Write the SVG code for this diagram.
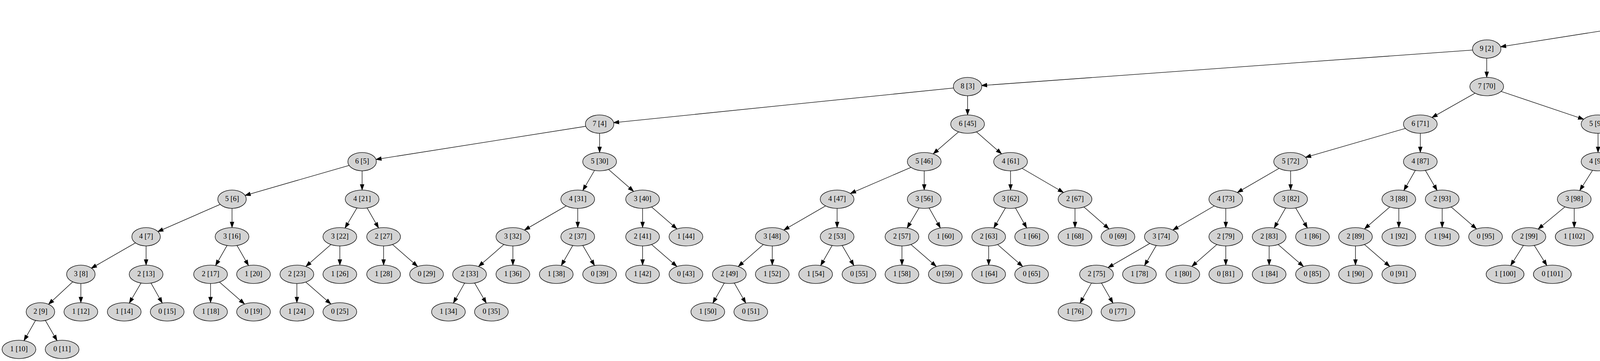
<svg xmlns="http://www.w3.org/2000/svg" width="7572" height="923" viewBox="0 0 7572 923">
<style>
.e line{stroke:#000;stroke-width:1.33;fill:none}
.n ellipse{fill:#d3d3d3;stroke:#000;stroke-width:1.33}
.n text{font-family:"Liberation Serif","Times New Roman",serif;font-size:18.67px;text-anchor:middle;fill:#000}
marker path{fill:#000;stroke:#000;stroke-width:1.33}
</style>
<defs>
<marker id="a24" markerUnits="userSpaceOnUse" orient="auto" markerWidth="16" markerHeight="12" refX="38.33" refY="6" overflow="visible"><path d="M1,1.33L14.33,6L1,10.67z"/></marker>
<marker id="a25" markerUnits="userSpaceOnUse" orient="auto" markerWidth="16" markerHeight="12" refX="39.2" refY="6" overflow="visible"><path d="M1,1.33L14.33,6L1,10.67z"/></marker>
<marker id="a26" markerUnits="userSpaceOnUse" orient="auto" markerWidth="16" markerHeight="12" refX="40.7" refY="6" overflow="visible"><path d="M1,1.33L14.33,6L1,10.67z"/></marker>
<marker id="a27" markerUnits="userSpaceOnUse" orient="auto" markerWidth="16" markerHeight="12" refX="41.3" refY="6" overflow="visible"><path d="M1,1.33L14.33,6L1,10.67z"/></marker>
<marker id="a29" markerUnits="userSpaceOnUse" orient="auto" markerWidth="16" markerHeight="12" refX="43.1" refY="6" overflow="visible"><path d="M1,1.33L14.33,6L1,10.67z"/></marker>
<marker id="a30" markerUnits="userSpaceOnUse" orient="auto" markerWidth="16" markerHeight="12" refX="44.3" refY="6" overflow="visible"><path d="M1,1.33L14.33,6L1,10.67z"/></marker>
<marker id="a31" markerUnits="userSpaceOnUse" orient="auto" markerWidth="16" markerHeight="12" refX="45.4" refY="6" overflow="visible"><path d="M1,1.33L14.33,6L1,10.67z"/></marker>
<marker id="a33" markerUnits="userSpaceOnUse" orient="auto" markerWidth="16" markerHeight="12" refX="47.2" refY="6" overflow="visible"><path d="M1,1.33L14.33,6L1,10.67z"/></marker>
<marker id="a34" markerUnits="userSpaceOnUse" orient="auto" markerWidth="16" markerHeight="12" refX="48.9" refY="6" overflow="visible"><path d="M1,1.33L14.33,6L1,10.67z"/></marker>
<marker id="a35" markerUnits="userSpaceOnUse" orient="auto" markerWidth="16" markerHeight="12" refX="49.3" refY="6" overflow="visible"><path d="M1,1.33L14.33,6L1,10.67z"/></marker>
<marker id="a36" markerUnits="userSpaceOnUse" orient="auto" markerWidth="16" markerHeight="12" refX="50.4" refY="6" overflow="visible"><path d="M1,1.33L14.33,6L1,10.67z"/></marker>
<marker id="a37" markerUnits="userSpaceOnUse" orient="auto" markerWidth="16" markerHeight="12" refX="51.7" refY="6" overflow="visible"><path d="M1,1.33L14.33,6L1,10.67z"/></marker>
<marker id="a39" markerUnits="userSpaceOnUse" orient="auto" markerWidth="16" markerHeight="12" refX="53.5" refY="6" overflow="visible"><path d="M1,1.33L14.33,6L1,10.67z"/></marker>
<marker id="a40" markerUnits="userSpaceOnUse" orient="auto" markerWidth="16" markerHeight="12" refX="54.2" refY="6" overflow="visible"><path d="M1,1.33L14.33,6L1,10.67z"/></marker>
<marker id="a43" markerUnits="userSpaceOnUse" orient="auto" markerWidth="16" markerHeight="12" refX="57.2" refY="6" overflow="visible"><path d="M1,1.33L14.33,6L1,10.67z"/></marker>
<marker id="a44" markerUnits="userSpaceOnUse" orient="auto" markerWidth="16" markerHeight="12" refX="58.6" refY="6" overflow="visible"><path d="M1,1.33L14.33,6L1,10.67z"/></marker>
<marker id="a45" markerUnits="userSpaceOnUse" orient="auto" markerWidth="16" markerHeight="12" refX="59.6" refY="6" overflow="visible"><path d="M1,1.33L14.33,6L1,10.67z"/></marker>
<marker id="a48" markerUnits="userSpaceOnUse" orient="auto" markerWidth="16" markerHeight="12" refX="62.3" refY="6" overflow="visible"><path d="M1,1.33L14.33,6L1,10.67z"/></marker>
</defs>
<rect width="7572" height="923" fill="#fff"/>
<g id="edges" class="e">
<line x1="4414" y1="29.3" x2="3806" y2="125.3" marker-end="url(#a36)"/>
<line x1="4414" y1="29.3" x2="5576" y2="125.3" marker-end="url(#a48)"/>
<line x1="3806" y1="125.3" x2="2477" y2="221.3" marker-end="url(#a36)"/>
<line x1="3806" y1="125.3" x2="3806" y2="221.3" marker-end="url(#a24)"/>
<line x1="2477" y1="221.3" x2="1535" y2="317.3" marker-end="url(#a36)"/>
<line x1="2477" y1="221.3" x2="2477" y2="317.3" marker-end="url(#a24)"/>
<line x1="1535" y1="317.3" x2="927" y2="413.3" marker-end="url(#a36)"/>
<line x1="1535" y1="317.3" x2="1535" y2="413.3" marker-end="url(#a24)"/>
<line x1="927" y1="413.3" x2="594" y2="509.3" marker-end="url(#a35)"/>
<line x1="927" y1="413.3" x2="927" y2="509.3" marker-end="url(#a24)"/>
<line x1="594" y1="509.3" x2="374" y2="605.3" marker-end="url(#a33)"/>
<line x1="594" y1="509.3" x2="594" y2="605.3" marker-end="url(#a24)"/>
<line x1="374" y1="605.3" x2="207" y2="701.3" marker-end="url(#a31)"/>
<line x1="374" y1="605.3" x2="374" y2="701.3" marker-end="url(#a24)"/>
<line x1="207" y1="701.3" x2="103.5" y2="797.3" marker-end="url(#a29)"/>
<line x1="207" y1="701.3" x2="207" y2="797.3" marker-end="url(#a24)"/>
<line x1="103.5" y1="797.3" x2="48.5" y2="893.3" marker-end="url(#a26)"/>
<line x1="103.5" y1="797.3" x2="159" y2="893.3" marker-end="url(#a26)"/>
<line x1="374" y1="701.3" x2="318" y2="797.3" marker-end="url(#a26)"/>
<line x1="374" y1="701.3" x2="428" y2="797.3" marker-end="url(#a26)"/>
<line x1="594" y1="605.3" x2="539" y2="701.3" marker-end="url(#a26)"/>
<line x1="594" y1="605.3" x2="649" y2="701.3" marker-end="url(#a26)"/>
<line x1="539" y1="701.3" x2="539" y2="797.3" marker-end="url(#a24)"/>
<line x1="539" y1="701.3" x2="649" y2="797.3" marker-end="url(#a31)"/>
<line x1="927" y1="509.3" x2="870" y2="605.3" marker-end="url(#a26)"/>
<line x1="927" y1="509.3" x2="982" y2="605.3" marker-end="url(#a26)"/>
<line x1="870" y1="605.3" x2="760" y2="701.3" marker-end="url(#a31)"/>
<line x1="870" y1="605.3" x2="870" y2="701.3" marker-end="url(#a24)"/>
<line x1="760" y1="701.3" x2="760" y2="797.3" marker-end="url(#a24)"/>
<line x1="760" y1="701.3" x2="870" y2="797.3" marker-end="url(#a31)"/>
<line x1="982" y1="605.3" x2="982" y2="701.3" marker-end="url(#a24)"/>
<line x1="982" y1="605.3" x2="1092" y2="701.3" marker-end="url(#a31)"/>
<line x1="1535" y1="413.3" x2="1479" y2="509.3" marker-end="url(#a26)"/>
<line x1="1535" y1="413.3" x2="1645" y2="509.3" marker-end="url(#a31)"/>
<line x1="1479" y1="509.3" x2="1313" y2="605.3" marker-end="url(#a34)"/>
<line x1="1479" y1="509.3" x2="1479" y2="605.3" marker-end="url(#a24)"/>
<line x1="1313" y1="605.3" x2="1202" y2="701.3" marker-end="url(#a31)"/>
<line x1="1313" y1="605.3" x2="1313" y2="701.3" marker-end="url(#a24)"/>
<line x1="1202" y1="701.3" x2="1148" y2="797.3" marker-end="url(#a26)"/>
<line x1="1202" y1="701.3" x2="1258" y2="797.3" marker-end="url(#a26)"/>
<line x1="1479" y1="605.3" x2="1424" y2="701.3" marker-end="url(#a26)"/>
<line x1="1479" y1="605.3" x2="1535" y2="701.3" marker-end="url(#a26)"/>
<line x1="1645" y1="509.3" x2="1645" y2="605.3" marker-end="url(#a24)"/>
<line x1="1645" y1="509.3" x2="1756" y2="605.3" marker-end="url(#a31)"/>
<line x1="1645" y1="605.3" x2="1645" y2="701.3" marker-end="url(#a24)"/>
<line x1="1645" y1="605.3" x2="1756" y2="701.3" marker-end="url(#a31)"/>
<line x1="2477" y1="317.3" x2="2366" y2="413.3" marker-end="url(#a31)"/>
<line x1="2477" y1="317.3" x2="2587" y2="413.3" marker-end="url(#a31)"/>
<line x1="2366" y1="413.3" x2="2143" y2="509.3" marker-end="url(#a37)"/>
<line x1="2366" y1="413.3" x2="2366" y2="509.3" marker-end="url(#a24)"/>
<line x1="2143" y1="509.3" x2="1977" y2="605.3" marker-end="url(#a34)"/>
<line x1="2143" y1="509.3" x2="2143" y2="605.3" marker-end="url(#a24)"/>
<line x1="1977" y1="605.3" x2="1867" y2="701.3" marker-end="url(#a31)"/>
<line x1="1977" y1="605.3" x2="1977" y2="701.3" marker-end="url(#a24)"/>
<line x1="1867" y1="701.3" x2="1812" y2="797.3" marker-end="url(#a26)"/>
<line x1="1867" y1="701.3" x2="1922" y2="797.3" marker-end="url(#a26)"/>
<line x1="2143" y1="605.3" x2="2088" y2="701.3" marker-end="url(#a26)"/>
<line x1="2143" y1="605.3" x2="2199" y2="701.3" marker-end="url(#a26)"/>
<line x1="2366" y1="509.3" x2="2309" y2="605.3" marker-end="url(#a26)"/>
<line x1="2366" y1="509.3" x2="2420" y2="605.3" marker-end="url(#a26)"/>
<line x1="2309" y1="605.3" x2="2309" y2="701.3" marker-end="url(#a24)"/>
<line x1="2309" y1="605.3" x2="2420" y2="701.3" marker-end="url(#a31)"/>
<line x1="2587" y1="413.3" x2="2587" y2="509.3" marker-end="url(#a24)"/>
<line x1="2587" y1="413.3" x2="2752" y2="509.3" marker-end="url(#a34)"/>
<line x1="2587" y1="509.3" x2="2531" y2="605.3" marker-end="url(#a26)"/>
<line x1="2587" y1="509.3" x2="2641" y2="605.3" marker-end="url(#a26)"/>
<line x1="2531" y1="605.3" x2="2531" y2="701.3" marker-end="url(#a24)"/>
<line x1="2531" y1="605.3" x2="2641" y2="701.3" marker-end="url(#a31)"/>
<line x1="2752" y1="509.3" x2="2752" y2="605.3" marker-end="url(#a24)"/>
<line x1="2752" y1="509.3" x2="2862" y2="605.3" marker-end="url(#a31)"/>
<line x1="3806" y1="221.3" x2="3636" y2="317.3" marker-end="url(#a34)"/>
<line x1="3806" y1="221.3" x2="4091" y2="317.3" marker-end="url(#a39)"/>
<line x1="3636" y1="317.3" x2="3304" y2="413.3" marker-end="url(#a40)"/>
<line x1="3636" y1="317.3" x2="3636" y2="413.3" marker-end="url(#a24)"/>
<line x1="3304" y1="413.3" x2="3138" y2="509.3" marker-end="url(#a34)"/>
<line x1="3304" y1="413.3" x2="3304" y2="509.3" marker-end="url(#a24)"/>
<line x1="3138" y1="509.3" x2="2973" y2="605.3" marker-end="url(#a34)"/>
<line x1="3138" y1="509.3" x2="3138" y2="605.3" marker-end="url(#a24)"/>
<line x1="2973" y1="605.3" x2="2807" y2="701.3" marker-end="url(#a34)"/>
<line x1="2973" y1="605.3" x2="2917" y2="701.3" marker-end="url(#a26)"/>
<line x1="2807" y1="701.3" x2="2752" y2="797.3" marker-end="url(#a26)"/>
<line x1="2807" y1="701.3" x2="2862" y2="797.3" marker-end="url(#a26)"/>
<line x1="3138" y1="605.3" x2="3028" y2="701.3" marker-end="url(#a31)"/>
<line x1="3138" y1="605.3" x2="3138" y2="701.3" marker-end="url(#a24)"/>
<line x1="3304" y1="509.3" x2="3249" y2="605.3" marker-end="url(#a26)"/>
<line x1="3304" y1="509.3" x2="3360" y2="605.3" marker-end="url(#a26)"/>
<line x1="3249" y1="605.3" x2="3249" y2="701.3" marker-end="url(#a24)"/>
<line x1="3249" y1="605.3" x2="3360" y2="701.3" marker-end="url(#a31)"/>
<line x1="3636" y1="413.3" x2="3581" y2="509.3" marker-end="url(#a26)"/>
<line x1="3636" y1="413.3" x2="3692" y2="509.3" marker-end="url(#a26)"/>
<line x1="3581" y1="509.3" x2="3470" y2="605.3" marker-end="url(#a31)"/>
<line x1="3581" y1="509.3" x2="3581" y2="605.3" marker-end="url(#a24)"/>
<line x1="3470" y1="605.3" x2="3470" y2="701.3" marker-end="url(#a24)"/>
<line x1="3470" y1="605.3" x2="3581" y2="701.3" marker-end="url(#a31)"/>
<line x1="3692" y1="509.3" x2="3692" y2="605.3" marker-end="url(#a24)"/>
<line x1="3692" y1="509.3" x2="3803" y2="605.3" marker-end="url(#a31)"/>
<line x1="4091" y1="317.3" x2="4091" y2="413.3" marker-end="url(#a24)"/>
<line x1="4091" y1="317.3" x2="4394" y2="413.3" marker-end="url(#a43)"/>
<line x1="4091" y1="413.3" x2="4030" y2="509.3" marker-end="url(#a27)"/>
<line x1="4091" y1="413.3" x2="4151" y2="509.3" marker-end="url(#a27)"/>
<line x1="4030" y1="509.3" x2="3914" y2="605.3" marker-end="url(#a31)"/>
<line x1="4030" y1="509.3" x2="4030" y2="605.3" marker-end="url(#a24)"/>
<line x1="3914" y1="605.3" x2="3853" y2="701.3" marker-end="url(#a27)"/>
<line x1="3914" y1="605.3" x2="3974" y2="701.3" marker-end="url(#a27)"/>
<line x1="4151" y1="509.3" x2="4151" y2="605.3" marker-end="url(#a24)"/>
<line x1="4151" y1="509.3" x2="4272" y2="605.3" marker-end="url(#a33)"/>
<line x1="4394" y1="413.3" x2="4394" y2="509.3" marker-end="url(#a24)"/>
<line x1="4394" y1="413.3" x2="4515" y2="509.3" marker-end="url(#a33)"/>
<line x1="4394" y1="509.3" x2="4394" y2="605.3" marker-end="url(#a24)"/>
<line x1="4394" y1="509.3" x2="4515" y2="605.3" marker-end="url(#a33)"/>
<line x1="5576" y1="125.3" x2="5576" y2="221.3" marker-end="url(#a24)"/>
<line x1="5576" y1="125.3" x2="6790" y2="221.3" marker-end="url(#a48)"/>
<line x1="5576" y1="221.3" x2="5395" y2="317.3" marker-end="url(#a37)"/>
<line x1="5576" y1="221.3" x2="5879" y2="317.3" marker-end="url(#a43)"/>
<line x1="5395" y1="317.3" x2="5031" y2="413.3" marker-end="url(#a44)"/>
<line x1="5395" y1="317.3" x2="5395" y2="413.3" marker-end="url(#a24)"/>
<line x1="5031" y1="413.3" x2="4818" y2="509.3" marker-end="url(#a39)"/>
<line x1="5031" y1="413.3" x2="5031" y2="509.3" marker-end="url(#a24)"/>
<line x1="4818" y1="509.3" x2="4635" y2="605.3" marker-end="url(#a37)"/>
<line x1="4818" y1="509.3" x2="4818" y2="605.3" marker-end="url(#a24)"/>
<line x1="4635" y1="605.3" x2="4485" y2="701.3" marker-end="url(#a35)"/>
<line x1="4635" y1="605.3" x2="4606" y2="701.3" marker-end="url(#a25)"/>
<line x1="4485" y1="701.3" x2="4423" y2="797.3" marker-end="url(#a27)"/>
<line x1="4485" y1="701.3" x2="4544" y2="797.3" marker-end="url(#a27)"/>
<line x1="4818" y1="605.3" x2="4727" y2="701.3" marker-end="url(#a30)"/>
<line x1="4818" y1="605.3" x2="4848" y2="701.3" marker-end="url(#a25)"/>
<line x1="5031" y1="509.3" x2="4969" y2="605.3" marker-end="url(#a27)"/>
<line x1="5031" y1="509.3" x2="5091" y2="605.3" marker-end="url(#a27)"/>
<line x1="4969" y1="605.3" x2="4969" y2="701.3" marker-end="url(#a24)"/>
<line x1="4969" y1="605.3" x2="5091" y2="701.3" marker-end="url(#a33)"/>
<line x1="5395" y1="413.3" x2="5334" y2="509.3" marker-end="url(#a27)"/>
<line x1="5395" y1="413.3" x2="5455" y2="509.3" marker-end="url(#a27)"/>
<line x1="5334" y1="509.3" x2="5213" y2="605.3" marker-end="url(#a33)"/>
<line x1="5334" y1="509.3" x2="5334" y2="605.3" marker-end="url(#a24)"/>
<line x1="5213" y1="605.3" x2="5213" y2="701.3" marker-end="url(#a24)"/>
<line x1="5213" y1="605.3" x2="5334" y2="701.3" marker-end="url(#a33)"/>
<line x1="5455" y1="509.3" x2="5455" y2="605.3" marker-end="url(#a24)"/>
<line x1="5455" y1="509.3" x2="5576" y2="605.3" marker-end="url(#a33)"/>
<line x1="5879" y1="317.3" x2="5879" y2="413.3" marker-end="url(#a24)"/>
<line x1="5879" y1="317.3" x2="6183" y2="413.3" marker-end="url(#a43)"/>
<line x1="5879" y1="413.3" x2="5819" y2="509.3" marker-end="url(#a27)"/>
<line x1="5879" y1="413.3" x2="5941" y2="509.3" marker-end="url(#a27)"/>
<line x1="5819" y1="509.3" x2="5698" y2="605.3" marker-end="url(#a33)"/>
<line x1="5819" y1="509.3" x2="5819" y2="605.3" marker-end="url(#a24)"/>
<line x1="5698" y1="605.3" x2="5638" y2="701.3" marker-end="url(#a27)"/>
<line x1="5698" y1="605.3" x2="5759" y2="701.3" marker-end="url(#a27)"/>
<line x1="5941" y1="509.3" x2="5941" y2="605.3" marker-end="url(#a24)"/>
<line x1="5941" y1="509.3" x2="6062" y2="605.3" marker-end="url(#a33)"/>
<line x1="6183" y1="413.3" x2="6183" y2="509.3" marker-end="url(#a24)"/>
<line x1="6183" y1="413.3" x2="6303" y2="509.3" marker-end="url(#a33)"/>
<line x1="6183" y1="509.3" x2="6183" y2="605.3" marker-end="url(#a24)"/>
<line x1="6183" y1="509.3" x2="6303" y2="605.3" marker-end="url(#a33)"/>
<line x1="6790" y1="221.3" x2="6790" y2="317.3" marker-end="url(#a24)"/>
<line x1="6790" y1="221.3" x2="7215" y2="317.3" marker-end="url(#a45)"/>
<line x1="6790" y1="317.3" x2="6728" y2="413.3" marker-end="url(#a27)"/>
<line x1="6790" y1="317.3" x2="6911" y2="413.3" marker-end="url(#a33)"/>
<line x1="6728" y1="413.3" x2="6547" y2="509.3" marker-end="url(#a37)"/>
<line x1="6728" y1="413.3" x2="6728" y2="509.3" marker-end="url(#a24)"/>
<line x1="6547" y1="509.3" x2="6425" y2="605.3" marker-end="url(#a33)"/>
<line x1="6547" y1="509.3" x2="6547" y2="605.3" marker-end="url(#a24)"/>
<line x1="6425" y1="605.3" x2="6364" y2="701.3" marker-end="url(#a27)"/>
<line x1="6425" y1="605.3" x2="6486" y2="701.3" marker-end="url(#a27)"/>
<line x1="6728" y1="509.3" x2="6668" y2="605.3" marker-end="url(#a27)"/>
<line x1="6728" y1="509.3" x2="6790" y2="605.3" marker-end="url(#a27)"/>
<line x1="6911" y1="413.3" x2="6911" y2="509.3" marker-end="url(#a24)"/>
<line x1="6911" y1="413.3" x2="7032" y2="509.3" marker-end="url(#a33)"/>
<line x1="6911" y1="509.3" x2="6911" y2="605.3" marker-end="url(#a24)"/>
<line x1="6911" y1="509.3" x2="7032" y2="605.3" marker-end="url(#a33)"/>
<line x1="7215" y1="317.3" x2="7215" y2="413.3" marker-end="url(#a24)"/>
<line x1="7215" y1="317.3" x2="7397" y2="413.3" marker-end="url(#a37)"/>
<line x1="7215" y1="413.3" x2="7154" y2="509.3" marker-end="url(#a27)"/>
<line x1="7215" y1="413.3" x2="7275" y2="509.3" marker-end="url(#a27)"/>
<line x1="7154" y1="509.3" x2="7154" y2="605.3" marker-end="url(#a24)"/>
<line x1="7154" y1="509.3" x2="7275" y2="605.3" marker-end="url(#a33)"/>
<line x1="7397" y1="413.3" x2="7397" y2="509.3" marker-end="url(#a24)"/>
<line x1="7397" y1="413.3" x2="7518" y2="509.3" marker-end="url(#a33)"/>
</g>
<g id="n1" class="n" transform="translate(4414,29.3)"><ellipse rx="43.25" ry="23.5"/><text y="5">10 [1]</text></g>
<g id="n2" class="n" transform="translate(3806,125.3)"><ellipse rx="36.5" ry="23.5"/><text y="5">9 [2]</text></g>
<g id="n3" class="n" transform="translate(2477,221.3)"><ellipse rx="36.5" ry="23.5"/><text y="5">8 [3]</text></g>
<g id="n4" class="n" transform="translate(1535,317.3)"><ellipse rx="36.5" ry="23.5"/><text y="5">7 [4]</text></g>
<g id="n5" class="n" transform="translate(927,413.3)"><ellipse rx="36.5" ry="23.5"/><text y="5">6 [5]</text></g>
<g id="n6" class="n" transform="translate(594,509.3)"><ellipse rx="36.5" ry="23.5"/><text y="5">5 [6]</text></g>
<g id="n7" class="n" transform="translate(374,605.3)"><ellipse rx="36.5" ry="23.5"/><text y="5">4 [7]</text></g>
<g id="n8" class="n" transform="translate(207,701.3)"><ellipse rx="36.5" ry="23.5"/><text y="5">3 [8]</text></g>
<g id="n9" class="n" transform="translate(103.5,797.3)"><ellipse rx="36.5" ry="23.5"/><text y="5">2 [9]</text></g>
<g id="n10" class="n" transform="translate(48.5,893.3)"><ellipse rx="43.25" ry="23.5"/><text y="5">1 [10]</text></g>
<g id="n11" class="n" transform="translate(159,893.3)"><ellipse rx="43.25" ry="23.5"/><text y="5">0 [11]</text></g>
<g id="n12" class="n" transform="translate(207,797.3)"><ellipse rx="43.25" ry="23.5"/><text y="5">1 [12]</text></g>
<g id="n13" class="n" transform="translate(374,701.3)"><ellipse rx="43.25" ry="23.5"/><text y="5">2 [13]</text></g>
<g id="n14" class="n" transform="translate(318,797.3)"><ellipse rx="43.25" ry="23.5"/><text y="5">1 [14]</text></g>
<g id="n15" class="n" transform="translate(428,797.3)"><ellipse rx="43.25" ry="23.5"/><text y="5">0 [15]</text></g>
<g id="n16" class="n" transform="translate(594,605.3)"><ellipse rx="43.25" ry="23.5"/><text y="5">3 [16]</text></g>
<g id="n17" class="n" transform="translate(539,701.3)"><ellipse rx="43.25" ry="23.5"/><text y="5">2 [17]</text></g>
<g id="n18" class="n" transform="translate(539,797.3)"><ellipse rx="43.25" ry="23.5"/><text y="5">1 [18]</text></g>
<g id="n19" class="n" transform="translate(649,797.3)"><ellipse rx="43.25" ry="23.5"/><text y="5">0 [19]</text></g>
<g id="n20" class="n" transform="translate(649,701.3)"><ellipse rx="43.25" ry="23.5"/><text y="5">1 [20]</text></g>
<g id="n21" class="n" transform="translate(927,509.3)"><ellipse rx="43.25" ry="23.5"/><text y="5">4 [21]</text></g>
<g id="n22" class="n" transform="translate(870,605.3)"><ellipse rx="43.25" ry="23.5"/><text y="5">3 [22]</text></g>
<g id="n23" class="n" transform="translate(760,701.3)"><ellipse rx="43.25" ry="23.5"/><text y="5">2 [23]</text></g>
<g id="n24" class="n" transform="translate(760,797.3)"><ellipse rx="43.25" ry="23.5"/><text y="5">1 [24]</text></g>
<g id="n25" class="n" transform="translate(870,797.3)"><ellipse rx="43.25" ry="23.5"/><text y="5">0 [25]</text></g>
<g id="n26" class="n" transform="translate(870,701.3)"><ellipse rx="43.25" ry="23.5"/><text y="5">1 [26]</text></g>
<g id="n27" class="n" transform="translate(982,605.3)"><ellipse rx="43.25" ry="23.5"/><text y="5">2 [27]</text></g>
<g id="n28" class="n" transform="translate(982,701.3)"><ellipse rx="43.25" ry="23.5"/><text y="5">1 [28]</text></g>
<g id="n29" class="n" transform="translate(1092,701.3)"><ellipse rx="43.25" ry="23.5"/><text y="5">0 [29]</text></g>
<g id="n30" class="n" transform="translate(1535,413.3)"><ellipse rx="43.25" ry="23.5"/><text y="5">5 [30]</text></g>
<g id="n31" class="n" transform="translate(1479,509.3)"><ellipse rx="43.25" ry="23.5"/><text y="5">4 [31]</text></g>
<g id="n32" class="n" transform="translate(1313,605.3)"><ellipse rx="43.25" ry="23.5"/><text y="5">3 [32]</text></g>
<g id="n33" class="n" transform="translate(1202,701.3)"><ellipse rx="43.25" ry="23.5"/><text y="5">2 [33]</text></g>
<g id="n34" class="n" transform="translate(1148,797.3)"><ellipse rx="43.25" ry="23.5"/><text y="5">1 [34]</text></g>
<g id="n35" class="n" transform="translate(1258,797.3)"><ellipse rx="43.25" ry="23.5"/><text y="5">0 [35]</text></g>
<g id="n36" class="n" transform="translate(1313,701.3)"><ellipse rx="43.25" ry="23.5"/><text y="5">1 [36]</text></g>
<g id="n37" class="n" transform="translate(1479,605.3)"><ellipse rx="43.25" ry="23.5"/><text y="5">2 [37]</text></g>
<g id="n38" class="n" transform="translate(1424,701.3)"><ellipse rx="43.25" ry="23.5"/><text y="5">1 [38]</text></g>
<g id="n39" class="n" transform="translate(1535,701.3)"><ellipse rx="43.25" ry="23.5"/><text y="5">0 [39]</text></g>
<g id="n40" class="n" transform="translate(1645,509.3)"><ellipse rx="43.25" ry="23.5"/><text y="5">3 [40]</text></g>
<g id="n41" class="n" transform="translate(1645,605.3)"><ellipse rx="43.25" ry="23.5"/><text y="5">2 [41]</text></g>
<g id="n42" class="n" transform="translate(1645,701.3)"><ellipse rx="43.25" ry="23.5"/><text y="5">1 [42]</text></g>
<g id="n43" class="n" transform="translate(1756,701.3)"><ellipse rx="43.25" ry="23.5"/><text y="5">0 [43]</text></g>
<g id="n44" class="n" transform="translate(1756,605.3)"><ellipse rx="43.25" ry="23.5"/><text y="5">1 [44]</text></g>
<g id="n45" class="n" transform="translate(2477,317.3)"><ellipse rx="43.25" ry="23.5"/><text y="5">6 [45]</text></g>
<g id="n46" class="n" transform="translate(2366,413.3)"><ellipse rx="43.25" ry="23.5"/><text y="5">5 [46]</text></g>
<g id="n47" class="n" transform="translate(2143,509.3)"><ellipse rx="43.25" ry="23.5"/><text y="5">4 [47]</text></g>
<g id="n48" class="n" transform="translate(1977,605.3)"><ellipse rx="43.25" ry="23.5"/><text y="5">3 [48]</text></g>
<g id="n49" class="n" transform="translate(1867,701.3)"><ellipse rx="43.25" ry="23.5"/><text y="5">2 [49]</text></g>
<g id="n50" class="n" transform="translate(1812,797.3)"><ellipse rx="43.25" ry="23.5"/><text y="5">1 [50]</text></g>
<g id="n51" class="n" transform="translate(1922,797.3)"><ellipse rx="43.25" ry="23.5"/><text y="5">0 [51]</text></g>
<g id="n52" class="n" transform="translate(1977,701.3)"><ellipse rx="43.25" ry="23.5"/><text y="5">1 [52]</text></g>
<g id="n53" class="n" transform="translate(2143,605.3)"><ellipse rx="43.25" ry="23.5"/><text y="5">2 [53]</text></g>
<g id="n54" class="n" transform="translate(2088,701.3)"><ellipse rx="43.25" ry="23.5"/><text y="5">1 [54]</text></g>
<g id="n55" class="n" transform="translate(2199,701.3)"><ellipse rx="43.25" ry="23.5"/><text y="5">0 [55]</text></g>
<g id="n56" class="n" transform="translate(2366,509.3)"><ellipse rx="43.25" ry="23.5"/><text y="5">3 [56]</text></g>
<g id="n57" class="n" transform="translate(2309,605.3)"><ellipse rx="43.25" ry="23.5"/><text y="5">2 [57]</text></g>
<g id="n58" class="n" transform="translate(2309,701.3)"><ellipse rx="43.25" ry="23.5"/><text y="5">1 [58]</text></g>
<g id="n59" class="n" transform="translate(2420,701.3)"><ellipse rx="43.25" ry="23.5"/><text y="5">0 [59]</text></g>
<g id="n60" class="n" transform="translate(2420,605.3)"><ellipse rx="43.25" ry="23.5"/><text y="5">1 [60]</text></g>
<g id="n61" class="n" transform="translate(2587,413.3)"><ellipse rx="43.25" ry="23.5"/><text y="5">4 [61]</text></g>
<g id="n62" class="n" transform="translate(2587,509.3)"><ellipse rx="43.25" ry="23.5"/><text y="5">3 [62]</text></g>
<g id="n63" class="n" transform="translate(2531,605.3)"><ellipse rx="43.25" ry="23.5"/><text y="5">2 [63]</text></g>
<g id="n64" class="n" transform="translate(2531,701.3)"><ellipse rx="43.25" ry="23.5"/><text y="5">1 [64]</text></g>
<g id="n65" class="n" transform="translate(2641,701.3)"><ellipse rx="43.25" ry="23.5"/><text y="5">0 [65]</text></g>
<g id="n66" class="n" transform="translate(2641,605.3)"><ellipse rx="43.25" ry="23.5"/><text y="5">1 [66]</text></g>
<g id="n67" class="n" transform="translate(2752,509.3)"><ellipse rx="43.25" ry="23.5"/><text y="5">2 [67]</text></g>
<g id="n68" class="n" transform="translate(2752,605.3)"><ellipse rx="43.25" ry="23.5"/><text y="5">1 [68]</text></g>
<g id="n69" class="n" transform="translate(2862,605.3)"><ellipse rx="43.25" ry="23.5"/><text y="5">0 [69]</text></g>
<g id="n70" class="n" transform="translate(3806,221.3)"><ellipse rx="43.25" ry="23.5"/><text y="5">7 [70]</text></g>
<g id="n71" class="n" transform="translate(3636,317.3)"><ellipse rx="43.25" ry="23.5"/><text y="5">6 [71]</text></g>
<g id="n72" class="n" transform="translate(3304,413.3)"><ellipse rx="43.25" ry="23.5"/><text y="5">5 [72]</text></g>
<g id="n73" class="n" transform="translate(3138,509.3)"><ellipse rx="43.25" ry="23.5"/><text y="5">4 [73]</text></g>
<g id="n74" class="n" transform="translate(2973,605.3)"><ellipse rx="43.25" ry="23.5"/><text y="5">3 [74]</text></g>
<g id="n75" class="n" transform="translate(2807,701.3)"><ellipse rx="43.25" ry="23.5"/><text y="5">2 [75]</text></g>
<g id="n76" class="n" transform="translate(2752,797.3)"><ellipse rx="43.25" ry="23.5"/><text y="5">1 [76]</text></g>
<g id="n77" class="n" transform="translate(2862,797.3)"><ellipse rx="43.25" ry="23.5"/><text y="5">0 [77]</text></g>
<g id="n78" class="n" transform="translate(2917,701.3)"><ellipse rx="43.25" ry="23.5"/><text y="5">1 [78]</text></g>
<g id="n79" class="n" transform="translate(3138,605.3)"><ellipse rx="43.25" ry="23.5"/><text y="5">2 [79]</text></g>
<g id="n80" class="n" transform="translate(3028,701.3)"><ellipse rx="43.25" ry="23.5"/><text y="5">1 [80]</text></g>
<g id="n81" class="n" transform="translate(3138,701.3)"><ellipse rx="43.25" ry="23.5"/><text y="5">0 [81]</text></g>
<g id="n82" class="n" transform="translate(3304,509.3)"><ellipse rx="43.25" ry="23.5"/><text y="5">3 [82]</text></g>
<g id="n83" class="n" transform="translate(3249,605.3)"><ellipse rx="43.25" ry="23.5"/><text y="5">2 [83]</text></g>
<g id="n84" class="n" transform="translate(3249,701.3)"><ellipse rx="43.25" ry="23.5"/><text y="5">1 [84]</text></g>
<g id="n85" class="n" transform="translate(3360,701.3)"><ellipse rx="43.25" ry="23.5"/><text y="5">0 [85]</text></g>
<g id="n86" class="n" transform="translate(3360,605.3)"><ellipse rx="43.25" ry="23.5"/><text y="5">1 [86]</text></g>
<g id="n87" class="n" transform="translate(3636,413.3)"><ellipse rx="43.25" ry="23.5"/><text y="5">4 [87]</text></g>
<g id="n88" class="n" transform="translate(3581,509.3)"><ellipse rx="43.25" ry="23.5"/><text y="5">3 [88]</text></g>
<g id="n89" class="n" transform="translate(3470,605.3)"><ellipse rx="43.25" ry="23.5"/><text y="5">2 [89]</text></g>
<g id="n90" class="n" transform="translate(3470,701.3)"><ellipse rx="43.25" ry="23.5"/><text y="5">1 [90]</text></g>
<g id="n91" class="n" transform="translate(3581,701.3)"><ellipse rx="43.25" ry="23.5"/><text y="5">0 [91]</text></g>
<g id="n92" class="n" transform="translate(3581,605.3)"><ellipse rx="43.25" ry="23.5"/><text y="5">1 [92]</text></g>
<g id="n93" class="n" transform="translate(3692,509.3)"><ellipse rx="43.25" ry="23.5"/><text y="5">2 [93]</text></g>
<g id="n94" class="n" transform="translate(3692,605.3)"><ellipse rx="43.25" ry="23.5"/><text y="5">1 [94]</text></g>
<g id="n95" class="n" transform="translate(3803,605.3)"><ellipse rx="43.25" ry="23.5"/><text y="5">0 [95]</text></g>
<g id="n96" class="n" transform="translate(4091,317.3)"><ellipse rx="43.25" ry="23.5"/><text y="5">5 [96]</text></g>
<g id="n97" class="n" transform="translate(4091,413.3)"><ellipse rx="43.25" ry="23.5"/><text y="5">4 [97]</text></g>
<g id="n98" class="n" transform="translate(4030,509.3)"><ellipse rx="43.25" ry="23.5"/><text y="5">3 [98]</text></g>
<g id="n99" class="n" transform="translate(3914,605.3)"><ellipse rx="43.25" ry="23.5"/><text y="5">2 [99]</text></g>
<g id="n100" class="n" transform="translate(3853,701.3)"><ellipse rx="48.5" ry="23.5"/><text y="5">1 [100]</text></g>
<g id="n101" class="n" transform="translate(3974,701.3)"><ellipse rx="48.5" ry="23.5"/><text y="5">0 [101]</text></g>
<g id="n102" class="n" transform="translate(4030,605.3)"><ellipse rx="48.5" ry="23.5"/><text y="5">1 [102]</text></g>
<g id="n103" class="n" transform="translate(4151,509.3)"><ellipse rx="48.5" ry="23.5"/><text y="5">2 [103]</text></g>
<g id="n104" class="n" transform="translate(4151,605.3)"><ellipse rx="48.5" ry="23.5"/><text y="5">1 [104]</text></g>
<g id="n105" class="n" transform="translate(4272,605.3)"><ellipse rx="48.5" ry="23.5"/><text y="5">0 [105]</text></g>
<g id="n106" class="n" transform="translate(4394,413.3)"><ellipse rx="48.5" ry="23.5"/><text y="5">3 [106]</text></g>
<g id="n107" class="n" transform="translate(4394,509.3)"><ellipse rx="48.5" ry="23.5"/><text y="5">2 [107]</text></g>
<g id="n108" class="n" transform="translate(4394,605.3)"><ellipse rx="48.5" ry="23.5"/><text y="5">1 [108]</text></g>
<g id="n109" class="n" transform="translate(4515,605.3)"><ellipse rx="48.5" ry="23.5"/><text y="5">0 [109]</text></g>
<g id="n110" class="n" transform="translate(4515,509.3)"><ellipse rx="48.5" ry="23.5"/><text y="5">1 [110]</text></g>
<g id="n111" class="n" transform="translate(5576,125.3)"><ellipse rx="48.5" ry="23.5"/><text y="5">8 [111]</text></g>
<g id="n112" class="n" transform="translate(5576,221.3)"><ellipse rx="48.5" ry="23.5"/><text y="5">7 [112]</text></g>
<g id="n113" class="n" transform="translate(5395,317.3)"><ellipse rx="48.5" ry="23.5"/><text y="5">6 [113]</text></g>
<g id="n114" class="n" transform="translate(5031,413.3)"><ellipse rx="48.5" ry="23.5"/><text y="5">5 [114]</text></g>
<g id="n115" class="n" transform="translate(4818,509.3)"><ellipse rx="48.5" ry="23.5"/><text y="5">4 [115]</text></g>
<g id="n116" class="n" transform="translate(4635,605.3)"><ellipse rx="48.5" ry="23.5"/><text y="5">3 [116]</text></g>
<g id="n117" class="n" transform="translate(4485,701.3)"><ellipse rx="48.5" ry="23.5"/><text y="5">2 [117]</text></g>
<g id="n118" class="n" transform="translate(4423,797.3)"><ellipse rx="48.5" ry="23.5"/><text y="5">1 [118]</text></g>
<g id="n119" class="n" transform="translate(4544,797.3)"><ellipse rx="48.5" ry="23.5"/><text y="5">0 [119]</text></g>
<g id="n120" class="n" transform="translate(4606,701.3)"><ellipse rx="48.5" ry="23.5"/><text y="5">1 [120]</text></g>
<g id="n121" class="n" transform="translate(4818,605.3)"><ellipse rx="48.5" ry="23.5"/><text y="5">2 [121]</text></g>
<g id="n122" class="n" transform="translate(4727,701.3)"><ellipse rx="48.5" ry="23.5"/><text y="5">1 [122]</text></g>
<g id="n123" class="n" transform="translate(4848,701.3)"><ellipse rx="48.5" ry="23.5"/><text y="5">0 [123]</text></g>
<g id="n124" class="n" transform="translate(5031,509.3)"><ellipse rx="48.5" ry="23.5"/><text y="5">3 [124]</text></g>
<g id="n125" class="n" transform="translate(4969,605.3)"><ellipse rx="48.5" ry="23.5"/><text y="5">2 [125]</text></g>
<g id="n126" class="n" transform="translate(4969,701.3)"><ellipse rx="48.5" ry="23.5"/><text y="5">1 [126]</text></g>
<g id="n127" class="n" transform="translate(5091,701.3)"><ellipse rx="48.5" ry="23.5"/><text y="5">0 [127]</text></g>
<g id="n128" class="n" transform="translate(5091,605.3)"><ellipse rx="48.5" ry="23.5"/><text y="5">1 [128]</text></g>
<g id="n129" class="n" transform="translate(5395,413.3)"><ellipse rx="48.5" ry="23.5"/><text y="5">4 [129]</text></g>
<g id="n130" class="n" transform="translate(5334,509.3)"><ellipse rx="48.5" ry="23.5"/><text y="5">3 [130]</text></g>
<g id="n131" class="n" transform="translate(5213,605.3)"><ellipse rx="48.5" ry="23.5"/><text y="5">2 [131]</text></g>
<g id="n132" class="n" transform="translate(5213,701.3)"><ellipse rx="48.5" ry="23.5"/><text y="5">1 [132]</text></g>
<g id="n133" class="n" transform="translate(5334,701.3)"><ellipse rx="48.5" ry="23.5"/><text y="5">0 [133]</text></g>
<g id="n134" class="n" transform="translate(5334,605.3)"><ellipse rx="48.5" ry="23.5"/><text y="5">1 [134]</text></g>
<g id="n135" class="n" transform="translate(5455,509.3)"><ellipse rx="48.5" ry="23.5"/><text y="5">2 [135]</text></g>
<g id="n136" class="n" transform="translate(5455,605.3)"><ellipse rx="48.5" ry="23.5"/><text y="5">1 [136]</text></g>
<g id="n137" class="n" transform="translate(5576,605.3)"><ellipse rx="48.5" ry="23.5"/><text y="5">0 [137]</text></g>
<g id="n138" class="n" transform="translate(5879,317.3)"><ellipse rx="48.5" ry="23.5"/><text y="5">5 [138]</text></g>
<g id="n139" class="n" transform="translate(5879,413.3)"><ellipse rx="48.5" ry="23.5"/><text y="5">4 [139]</text></g>
<g id="n140" class="n" transform="translate(5819,509.3)"><ellipse rx="48.5" ry="23.5"/><text y="5">3 [140]</text></g>
<g id="n141" class="n" transform="translate(5698,605.3)"><ellipse rx="48.5" ry="23.5"/><text y="5">2 [141]</text></g>
<g id="n142" class="n" transform="translate(5638,701.3)"><ellipse rx="48.5" ry="23.5"/><text y="5">1 [142]</text></g>
<g id="n143" class="n" transform="translate(5759,701.3)"><ellipse rx="48.5" ry="23.5"/><text y="5">0 [143]</text></g>
<g id="n144" class="n" transform="translate(5819,605.3)"><ellipse rx="48.5" ry="23.5"/><text y="5">1 [144]</text></g>
<g id="n145" class="n" transform="translate(5941,509.3)"><ellipse rx="48.5" ry="23.5"/><text y="5">2 [145]</text></g>
<g id="n146" class="n" transform="translate(5941,605.3)"><ellipse rx="48.5" ry="23.5"/><text y="5">1 [146]</text></g>
<g id="n147" class="n" transform="translate(6062,605.3)"><ellipse rx="48.5" ry="23.5"/><text y="5">0 [147]</text></g>
<g id="n148" class="n" transform="translate(6183,413.3)"><ellipse rx="48.5" ry="23.5"/><text y="5">3 [148]</text></g>
<g id="n149" class="n" transform="translate(6183,509.3)"><ellipse rx="48.5" ry="23.5"/><text y="5">2 [149]</text></g>
<g id="n150" class="n" transform="translate(6183,605.3)"><ellipse rx="48.5" ry="23.5"/><text y="5">1 [150]</text></g>
<g id="n151" class="n" transform="translate(6303,605.3)"><ellipse rx="48.5" ry="23.5"/><text y="5">0 [151]</text></g>
<g id="n152" class="n" transform="translate(6303,509.3)"><ellipse rx="48.5" ry="23.5"/><text y="5">1 [152]</text></g>
<g id="n153" class="n" transform="translate(6790,221.3)"><ellipse rx="48.5" ry="23.5"/><text y="5">6 [153]</text></g>
<g id="n154" class="n" transform="translate(6790,317.3)"><ellipse rx="48.5" ry="23.5"/><text y="5">5 [154]</text></g>
<g id="n155" class="n" transform="translate(6728,413.3)"><ellipse rx="48.5" ry="23.5"/><text y="5">4 [155]</text></g>
<g id="n156" class="n" transform="translate(6547,509.3)"><ellipse rx="48.5" ry="23.5"/><text y="5">3 [156]</text></g>
<g id="n157" class="n" transform="translate(6425,605.3)"><ellipse rx="48.5" ry="23.5"/><text y="5">2 [157]</text></g>
<g id="n158" class="n" transform="translate(6364,701.3)"><ellipse rx="48.5" ry="23.5"/><text y="5">1 [158]</text></g>
<g id="n159" class="n" transform="translate(6486,701.3)"><ellipse rx="48.5" ry="23.5"/><text y="5">0 [159]</text></g>
<g id="n160" class="n" transform="translate(6547,605.3)"><ellipse rx="48.5" ry="23.5"/><text y="5">1 [160]</text></g>
<g id="n161" class="n" transform="translate(6728,509.3)"><ellipse rx="48.5" ry="23.5"/><text y="5">2 [161]</text></g>
<g id="n162" class="n" transform="translate(6668,605.3)"><ellipse rx="48.5" ry="23.5"/><text y="5">1 [162]</text></g>
<g id="n163" class="n" transform="translate(6790,605.3)"><ellipse rx="48.5" ry="23.5"/><text y="5">0 [163]</text></g>
<g id="n164" class="n" transform="translate(6911,413.3)"><ellipse rx="48.5" ry="23.5"/><text y="5">3 [164]</text></g>
<g id="n165" class="n" transform="translate(6911,509.3)"><ellipse rx="48.5" ry="23.5"/><text y="5">2 [165]</text></g>
<g id="n166" class="n" transform="translate(6911,605.3)"><ellipse rx="48.5" ry="23.5"/><text y="5">1 [166]</text></g>
<g id="n167" class="n" transform="translate(7032,605.3)"><ellipse rx="48.5" ry="23.5"/><text y="5">0 [167]</text></g>
<g id="n168" class="n" transform="translate(7032,509.3)"><ellipse rx="48.5" ry="23.5"/><text y="5">1 [168]</text></g>
<g id="n169" class="n" transform="translate(7215,317.3)"><ellipse rx="48.5" ry="23.5"/><text y="5">4 [169]</text></g>
<g id="n170" class="n" transform="translate(7215,413.3)"><ellipse rx="48.5" ry="23.5"/><text y="5">3 [170]</text></g>
<g id="n171" class="n" transform="translate(7154,509.3)"><ellipse rx="48.5" ry="23.5"/><text y="5">2 [171]</text></g>
<g id="n172" class="n" transform="translate(7154,605.3)"><ellipse rx="48.5" ry="23.5"/><text y="5">1 [172]</text></g>
<g id="n173" class="n" transform="translate(7275,605.3)"><ellipse rx="48.5" ry="23.5"/><text y="5">0 [173]</text></g>
<g id="n174" class="n" transform="translate(7275,509.3)"><ellipse rx="48.5" ry="23.5"/><text y="5">1 [174]</text></g>
<g id="n175" class="n" transform="translate(7397,413.3)"><ellipse rx="48.5" ry="23.5"/><text y="5">2 [175]</text></g>
<g id="n176" class="n" transform="translate(7397,509.3)"><ellipse rx="48.5" ry="23.5"/><text y="5">1 [176]</text></g>
<g id="n177" class="n" transform="translate(7518,509.3)"><ellipse rx="48.5" ry="23.5"/><text y="5">0 [177]</text></g>
</svg>
